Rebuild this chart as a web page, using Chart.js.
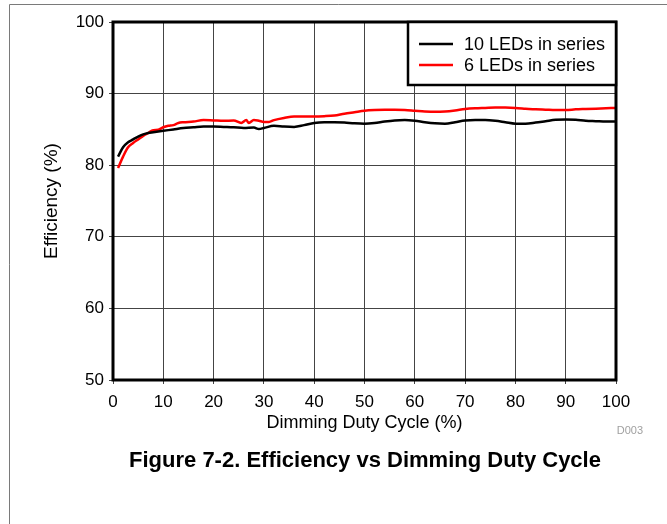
<!DOCTYPE html>
<html>
<head>
<meta charset="utf-8">
<script src="https://cdn.jsdelivr.net/npm/chart.js@4.4.1/dist/chart.umd.min.js"></script>
<style>
html, body { margin: 0; padding: 0; background: #fff; }
</style>
</head>
<body>
<canvas id="effChart" width="667" height="524"></canvas>
<script>
var FONT = "'Liberation Sans', Arial, Helvetica, sans-serif";

// duty cycle (%) and efficiency (%)
var duty10 = [1, 2, 3, 4, 5, 6, 7, 8, 9, 10, 12, 14, 16, 18, 20, 22, 24, 26, 28, 29, 30, 32, 34, 36, 38, 40,
  42, 44, 46, 48, 50, 52, 54, 56, 58, 60, 62, 64, 66, 68, 70, 72, 74, 76, 78, 80, 82, 84, 86, 88, 90,
  92, 94, 96, 98, 100];
var eff10 = [81.2, 82.5, 83.2, 83.6, 84.0, 84.3, 84.5, 84.6, 84.7, 84.8, 85.0, 85.2, 85.3, 85.4, 85.4, 85.35,
  85.3, 85.2, 85.25, 85.05, 85.2, 85.5, 85.4, 85.35, 85.6, 85.9, 86.0, 86.0, 85.95, 85.85, 85.8, 85.9, 86.1,
  86.25, 86.3, 86.2, 86.0, 85.85, 85.8, 86.0, 86.25, 86.3, 86.3, 86.2, 86.0, 85.8, 85.8, 85.95, 86.15,
  86.35, 86.4, 86.35, 86.2, 86.15, 86.1, 86.1];

var duty6 = [1, 2, 3, 4, 5, 6, 7, 8, 9, 10, 11, 12, 13, 14, 16, 18, 20, 22, 24, 25.5, 26.5, 27, 28, 29, 30,
  31, 32, 34, 36, 38, 40, 42, 44, 46, 48, 50, 52, 54, 56, 58, 60, 62, 64, 66, 68, 70, 72, 74, 76, 78, 80,
  82, 84, 86, 88, 90, 92, 94, 96, 98, 100];
var eff6 = [79.6, 81.2, 82.5, 83.1, 83.6, 84.1, 84.5, 84.9, 84.95, 85.3, 85.5, 85.6, 85.9, 86.0, 86.1, 86.3,
  86.25, 86.2, 86.25, 85.9, 86.3, 85.9, 86.3, 86.2, 86.05, 86.05, 86.3, 86.6, 86.8, 86.8, 86.8, 86.85,
  86.95, 87.2, 87.4, 87.6, 87.7, 87.75, 87.75, 87.7, 87.6, 87.5, 87.45, 87.5, 87.65, 87.85, 87.95, 88.0,
  88.05, 88.05, 88.0, 87.9, 87.8, 87.75, 87.7, 87.7, 87.8, 87.85, 87.9, 87.95, 88.0];

var seriesNames = ["10 LEDs in series", "6 LEDs in series"];
var seriesColors = ["#000000", "#ff0000"];
var xTicks = [0, 10, 20, 30, 40, 50, 60, 70, 80, 90, 100];
var yTicks = [50, 60, 70, 80, 90, 100];

function pairs(xs, ys) {
  var out = [];
  for (var i = 0; i < xs.length; i++) out.push({ x: xs[i], y: ys[i] });
  return out;
}

// page frame, plot border, legend box and caption
var decor = {
  id: "decor",
  afterDatasetsDraw: function (chart) {
    var ctx = chart.ctx, a = chart.chartArea;
    ctx.save();
    ctx.strokeStyle = "#000";
    ctx.lineWidth = 3;
    ctx.strokeRect(a.left, a.top, a.right - a.left, a.bottom - a.top);

    // legend
    var lx = 408, ly = a.top, lw = a.right - 408, lh = 63;
    ctx.fillStyle = "#fff";
    ctx.fillRect(lx, ly, lw, lh);
    ctx.lineWidth = 2.5;
    ctx.strokeRect(lx, ly, lw, lh);
    ctx.font = "18px " + FONT;
    ctx.textBaseline = "middle";
    ctx.textAlign = "left";
    chart.data.datasets.forEach(function (ds, i) {
      var y = 44 + i * 21;
      ctx.strokeStyle = ds.borderColor;
      ctx.lineWidth = 2.5;
      ctx.beginPath();
      ctx.moveTo(419, y);
      ctx.lineTo(453, y);
      ctx.stroke();
      ctx.fillStyle = "#000";
      ctx.fillText(ds.label, 464, y + 1);
    });
    ctx.restore();
  },
  afterDraw: function (chart) {
    var ctx = chart.ctx;
    ctx.save();
    ctx.strokeStyle = "#7a7a7a";
    ctx.lineWidth = 1;
    ctx.beginPath();
    ctx.moveTo(667, 4.5);
    ctx.lineTo(9.5, 4.5);
    ctx.lineTo(9.5, 524);
    ctx.stroke();

    ctx.fillStyle = "#a0a0a0";
    ctx.font = "11px " + FONT;
    ctx.textAlign = "right";
    ctx.textBaseline = "middle";
    ctx.fillText("D003", 643, 431);

    ctx.fillStyle = "#000";
    ctx.font = "bold 22px " + FONT;
    ctx.textAlign = "center";
    ctx.fillText("Figure 7-2. Efficiency vs Dimming Duty Cycle", 365, 461);
    ctx.restore();
  }
};

var chart = new Chart(document.getElementById("effChart"), {
  type: "line",
  data: {
    datasets: [
      {
        label: seriesNames[0],
        data: pairs(duty10, eff10),
        borderColor: seriesColors[0],
        borderWidth: 2.5,
        pointRadius: 0,
        tension: 0.4,
        cubicInterpolationMode: "monotone"
      },
      {
        label: seriesNames[1],
        data: pairs(duty6, eff6),
        borderColor: seriesColors[1],
        borderWidth: 2.5,
        pointRadius: 0,
        tension: 0.4,
        cubicInterpolationMode: "monotone"
      }
    ]
  },
  options: {
    responsive: false,
    animation: false,
    devicePixelRatio: 1,
    layout: { padding: { left: 0, right: 51, top: 22, bottom: 0 } },
    plugins: {
      legend: { display: false },
      tooltip: { enabled: false }
    },
    scales: {
      x: {
        type: "linear",
        min: 0,
        max: 100,
        afterFit: function (s) { s.height = 144; },
        afterBuildTicks: function (s) { s.ticks = xTicks.map(function (v) { return { value: v }; }); },
        ticks: { color: "#000", font: { family: FONT, size: 17 }, padding: 8, maxRotation: 0 },
        grid: { color: "#444", lineWidth: 1, tickLength: 4 },
        border: { display: false },
        title: {
          display: true,
          text: "Dimming Duty Cycle (%)",
          color: "#000",
          font: { family: FONT, size: 18 },
          padding: { top: 0, bottom: 90 }
        }
      },
      y: {
        min: 50,
        max: 100,
        afterFit: function (s) { s.width = 113; },
        afterBuildTicks: function (s) { s.ticks = yTicks.map(function (v) { return { value: v }; }); },
        ticks: { color: "#000", font: { family: FONT, size: 17 }, padding: 5 },
        grid: { color: "#444", lineWidth: 1, tickLength: 4 },
        border: { display: false },
        title: {
          display: true,
          text: "Efficiency (%)",
          color: "#000",
          font: { family: FONT, size: 19 },
          padding: { top: 40, bottom: 0 }
        }
      }
    }
  },
  plugins: [decor]
});
</script>
</body>
</html>
